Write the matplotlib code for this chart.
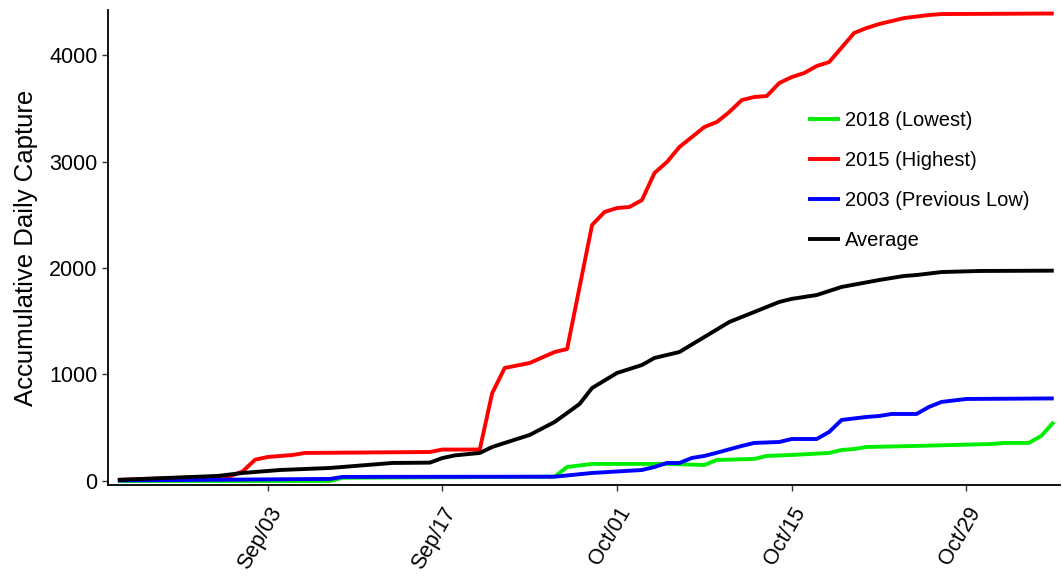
import matplotlib
matplotlib.use('Agg')
import matplotlib.pyplot as plt
import matplotlib.dates as mdates
import pandas as pd

plt.rcParams['font.family'] = ['Liberation Sans', 'DejaVu Sans']

# Cumulative daily capture (date, value) breakpoints
low_2018_dates = ['2018-08-22', '2018-09-08', '2018-09-09', '2018-09-26', '2018-09-27', '2018-09-29',
                  '2018-10-05', '2018-10-08', '2018-10-09', '2018-10-12', '2018-10-13', '2018-10-15',
                  '2018-10-18', '2018-10-19', '2018-10-20', '2018-10-21', '2018-10-25', '2018-10-28',
                  '2018-10-31', '2018-11-01', '2018-11-03', '2018-11-04', '2018-11-05']
low_2018_vals = [0, 0, 30, 40, 131, 160, 160, 150, 197, 207, 235, 244,
                 263, 291, 300, 319, 329, 338, 347, 357, 357, 423, 554]

high_2015_dates = ['2018-08-22', '2018-08-31', '2018-09-01', '2018-09-02', '2018-09-03', '2018-09-05',
                   '2018-09-06', '2018-09-16', '2018-09-17', '2018-09-20', '2018-09-21', '2018-09-22',
                   '2018-09-24', '2018-09-26', '2018-09-27', '2018-09-29', '2018-09-30', '2018-10-01',
                   '2018-10-02', '2018-10-03', '2018-10-04', '2018-10-05', '2018-10-06', '2018-10-07',
                   '2018-10-08', '2018-10-09', '2018-10-10', '2018-10-11', '2018-10-12', '2018-10-13',
                   '2018-10-14', '2018-10-15', '2018-10-16', '2018-10-17', '2018-10-18', '2018-10-19',
                   '2018-10-20', '2018-10-21', '2018-10-22', '2018-10-23', '2018-10-24', '2018-10-26',
                   '2018-10-27', '2018-11-05']
high_2015_vals = [10, 45, 90, 200, 225, 244, 263, 272, 295, 295, 826, 1061,
                  1108, 1211, 1239, 2404, 2526, 2563, 2573, 2638, 2892, 2995, 3136, 3230,
                  3324, 3371, 3465, 3577, 3606, 3615, 3737, 3793, 3831, 3897, 3934, 4070,
                  4207, 4254, 4291, 4319, 4347, 4376, 4385, 4390]

low_2003_dates = ['2018-08-22', '2018-09-08', '2018-09-09', '2018-09-26', '2018-09-29', '2018-10-03',
                  '2018-10-04', '2018-10-05', '2018-10-06', '2018-10-07', '2018-10-08', '2018-10-09',
                  '2018-10-11', '2018-10-12', '2018-10-14', '2018-10-15', '2018-10-17', '2018-10-18',
                  '2018-10-19', '2018-10-21', '2018-10-22', '2018-10-23', '2018-10-25', '2018-10-26',
                  '2018-10-27', '2018-10-29', '2018-11-05']
low_2003_vals = [5, 19, 38, 40, 75, 103, 131, 169, 169, 216, 235, 265,
                 329, 357, 366, 394, 394, 460, 573, 601, 610, 629, 629, 695,
                 742, 770, 775]

avg_dates = ['2018-08-22', '2018-08-30', '2018-09-01', '2018-09-04', '2018-09-08', '2018-09-13',
             '2018-09-16', '2018-09-17', '2018-09-18', '2018-09-20', '2018-09-21', '2018-09-22',
             '2018-09-24', '2018-09-26', '2018-09-27', '2018-09-28', '2018-09-29', '2018-10-01',
             '2018-10-03', '2018-10-04', '2018-10-06', '2018-10-08', '2018-10-10', '2018-10-12',
             '2018-10-14', '2018-10-15', '2018-10-17', '2018-10-19', '2018-10-22', '2018-10-24',
             '2018-10-25', '2018-10-27', '2018-10-30', '2018-11-05']
avg_vals = [10, 47, 75, 103, 122, 169, 172, 215, 240, 263, 319, 357,
            432, 554, 638, 723, 873, 1014, 1089, 1155, 1211, 1352, 1493, 1587,
            1681, 1710, 1746, 1822, 1887, 1925, 1934, 1962, 1972, 1975]

series = [
    (low_2018_dates, low_2018_vals, '#00EE00', '2018 (Lowest)'),
    (high_2015_dates, high_2015_vals, '#FF0000', '2015 (Highest)'),
    (low_2003_dates, low_2003_vals, '#0000FF', '2003 (Previous Low)'),
    (avg_dates, avg_vals, '#000000', 'Average'),
]

tick_dates = ['2018-09-03', '2018-09-17', '2018-10-01', '2018-10-15', '2018-10-29']

fig = plt.figure(figsize=(10.62, 5.81), dpi=100)
ax = fig.add_axes([108 / 1062, 1 - 485 / 581, (1060 - 108) / 1062, (485 - 10) / 581])

for dates, vals, color, label in series:
    ax.plot(pd.to_datetime(dates), vals, color=color, lw=2.8, label=label,
            solid_joinstyle='round', solid_capstyle='butt')

ax.set_xlim(pd.Timestamp('2018-08-21 05:00'), pd.Timestamp('2018-11-05 12:00'))
ax.set_ylim(-38, 4423)
ax.set_yticks([0, 1000, 2000, 3000, 4000])
ax.set_xticks(pd.to_datetime(tick_dates))
ax.xaxis.set_major_formatter(mdates.DateFormatter('%b/%d'))

for side in ['top', 'right']:
    ax.spines[side].set_visible(False)
for side in ['left', 'bottom']:
    ax.spines[side].set_linewidth(1.3)

ax.tick_params(axis='both', length=4, width=1, color='#333333', labelsize=15.5, labelcolor='black')
plt.setp(ax.get_xticklabels(), rotation=60, ha='right', va='top', rotation_mode='anchor')
ax.tick_params(axis='x', pad=9)

ax.set_ylabel('Accumulative Daily Capture', fontsize=18.5, labelpad=8)

ax.legend(loc='upper left', bbox_to_anchor=(808 / 1062, 1 - 111 / 581), bbox_transform=fig.transFigure,
          frameon=False, fontsize=14.5, handlelength=1.6, handletextpad=0.25, labelspacing=1.05,
          borderpad=0, borderaxespad=0)

fig.savefig('out.png', dpi=100)
